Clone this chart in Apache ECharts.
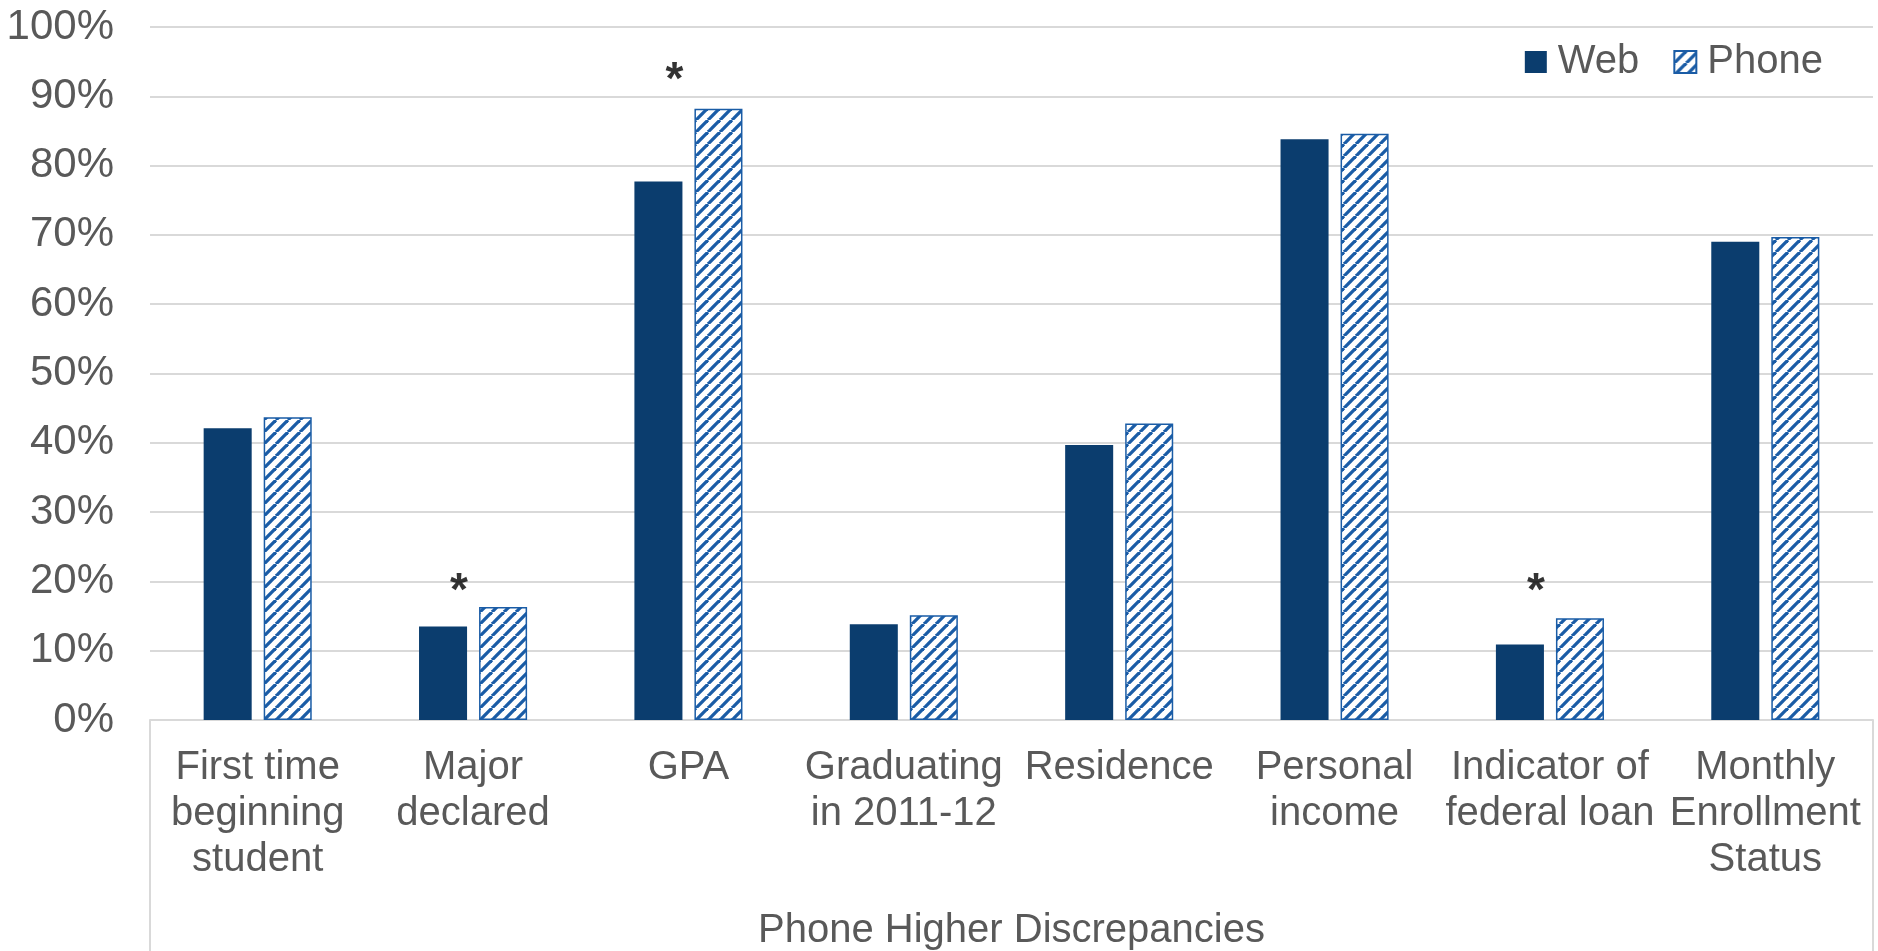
<!DOCTYPE html>
<html>
<head>
<meta charset="utf-8">
<title>Phone Higher Discrepancies</title>
<script src="https://cdn.jsdelivr.net/npm/echarts@6/dist/echarts.min.js"></script>
<style>
  html, body { margin: 0; padding: 0; background: #ffffff; }
  #chart { width: 1878px; height: 951px; }
</style>
</head>
<body>
<div id="chart"></div>
<script>
// Categories and discrepancy rates (%) by survey mode
const categories = [
  'First time\nbeginning\nstudent',
  'Major\ndeclared',
  'GPA',
  'Graduating\nin 2011-12',
  'Residence',
  'Personal\nincome',
  'Indicator of\nfederal loan',
  'Monthly\nEnrollment\nStatus'
];
const webValues   = [42.1, 13.5, 77.7, 13.8, 39.7, 83.8, 10.9, 69.0];
const phoneValues = [43.7, 16.3, 88.2, 15.1, 42.8, 84.6, 14.7, 69.7];
// Height of the significance asterisk above each group (null = not significant)
const significance = [null, 19.5, 93.2, null, null, null, 19.5, null];
const groupLabel = 'Phone Higher Discrepancies';
const yTicks = { min: 0, max: 100, interval: 10 };

const TEXT = '#595959';
const FONT = 'Liberation Sans, Arial, sans-serif';
const WEB_COLOR = '#0b3d6e';
const PHONE_COLOR = '#1a5ca6';

// Diagonal hatch used for the phone bars
function hatchPattern() {
  const s = 12;
  const c = document.createElement('canvas');
  c.width = s; c.height = s;
  const ctx = c.getContext('2d');
  ctx.fillStyle = '#ffffff';
  ctx.fillRect(0, 0, s, s);
  ctx.strokeStyle = PHONE_COLOR;
  ctx.lineWidth = 3.3;
  for (const k of [-s, 0, s]) {
    ctx.beginPath();
    ctx.moveTo(k, s);
    ctx.lineTo(k + s, 0);
    ctx.stroke();
  }
  return c;
}

const gridBox = { left: 150, right: 5, top: 27, bottom: 231 };
const W = 1878, H = 951;

const chart = echarts.init(document.getElementById('chart'));
chart.setOption({
  backgroundColor: '#ffffff',
  animation: false,
  grid: Object.assign({ containLabel: false, outerBoundsMode: 'none' }, gridBox),
  legend: {
    data: ['Web', 'Phone'],
    right: 50,
    top: 37,
    itemWidth: 22,
    itemHeight: 22,
    itemGap: 34,
    icon: 'rect',
    textStyle: { color: TEXT, fontSize: 40, fontFamily: FONT, padding: [0, 0, 0, 6] }
  },
  xAxis: {
    type: 'category',
    data: categories,
    name: groupLabel,
    nameLocation: 'middle',
    nameGap: 191,
    nameTextStyle: { color: TEXT, fontSize: 40, fontFamily: FONT },
    axisLine: { show: true, lineStyle: { color: '#d9d9d9', width: 2 } },
    axisTick: { show: false },
    axisLabel: {
      interval: 0,
      color: TEXT,
      fontSize: 40,
      lineHeight: 46,
      fontFamily: FONT,
      margin: 25
    },
    splitLine: { show: false }
  },
  yAxis: {
    type: 'value',
    min: yTicks.min,
    max: yTicks.max,
    interval: yTicks.interval,
    axisLine: { show: false },
    axisTick: { show: false },
    axisLabel: {
      formatter: '{value}%',
      color: TEXT,
      fontSize: 42,
      fontFamily: FONT,
      margin: 36
    },
    splitLine: { lineStyle: { color: '#d9d9d9', width: 2 } }
  },
  graphic: [
    {
      type: 'line', silent: true,
      shape: { x1: gridBox.left, y1: H - gridBox.bottom, x2: gridBox.left, y2: H },
      style: { stroke: '#d9d9d9', lineWidth: 2 }
    },
    {
      type: 'line', silent: true,
      shape: { x1: W - gridBox.right, y1: H - gridBox.bottom, x2: W - gridBox.right, y2: H },
      style: { stroke: '#d9d9d9', lineWidth: 2 }
    }
  ],
  series: [
    {
      name: 'Web',
      type: 'bar',
      data: webValues,
      barWidth: '22.3%',
      barGap: '25%',
      itemStyle: { color: WEB_COLOR }
    },
    {
      name: 'Phone',
      type: 'bar',
      data: phoneValues,
      barWidth: '22.3%',
      itemStyle: {
        color: { image: hatchPattern(), repeat: 'repeat' },
        borderColor: PHONE_COLOR,
        borderWidth: 1.5
      }
    },
    {
      name: 'Significant',
      type: 'scatter',
      data: significance,
      symbol: 'circle',
      symbolSize: 1,
      itemStyle: { color: 'rgba(0,0,0,0)' },
      silent: true,
      z: 5,
      label: {
        show: true,
        position: 'inside',
        formatter: '*',
        color: '#000000',
        fontSize: 46,
        fontWeight: 'bold',
        fontFamily: FONT,
        offset: [-14, 7]
      }
    }
  ]
});
</script>
</body>
</html>
